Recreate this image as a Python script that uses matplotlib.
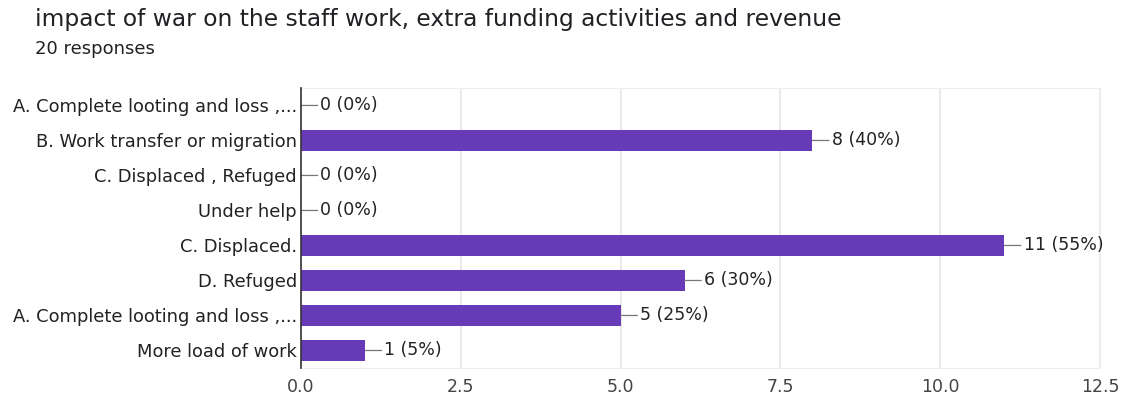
import matplotlib.pyplot as plt

# Survey answers (top to bottom) and response counts
categories = [
    "A. Complete looting and loss ,...",
    "B. Work transfer or migration",
    "C. Displaced , Refuged",
    "Under help",
    "C. Displaced.",
    "D. Refuged",
    "A. Complete looting and loss ,...",
    "More load of work",
]
counts = [0, 8, 0, 0, 11, 6, 5, 1]
percents = [0, 40, 0, 0, 55, 30, 25, 5]
total_responses = 20

xticks = [0.0, 2.5, 5.0, 7.5, 10.0, 12.5]

bar_color = "#673ab7"
plt.rcParams['font.family'] = ['DejaVu Sans']

fig = plt.figure(figsize=(11.25, 3.98), dpi=100)
ax = fig.add_axes([0.2676, 0.0754, 0.7102, 0.7036])

y = list(range(len(categories)))
ax.barh(y, counts, height=0.6, color=bar_color, zorder=3)

for yi, c, p in zip(y, counts, percents):
    ax.annotate(f"{c} ({p}%)", xy=(c, yi), xytext=(14, 0), textcoords='offset points',
                va='center', ha='left', fontsize=12.5, color='#222222',
                arrowprops=dict(arrowstyle='-', color='#777777', lw=0.9,
                                shrinkA=0, shrinkB=0))

ax.set_yticks(y)
ax.set_yticklabels(categories, fontsize=12.9, color='#222222')
ax.set_ylim(len(categories) - 0.5, -0.5)
ax.set_xlim(0, 12.5)
ax.set_xticks(xticks)
ax.set_xticklabels([f"{t:.1f}" for t in xticks], fontsize=12.5, color='#444444')
ax.tick_params(axis='y', length=0, pad=3)
ax.tick_params(axis='x', length=0, pad=7)

ax.grid(axis='x', color='#e6e6e6', lw=1.2, zorder=0)
for side in ['top', 'right', 'bottom']:
    ax.spines[side].set_color('#eeeeee')
ax.spines['left'].set_color('#333333')
ax.spines['left'].set_linewidth(1.2)
ax.spines['left'].set_zorder(4)

fig.text(0.031, 0.95, "impact of war on the staff work, extra funding activities and revenue",
         fontsize=16.8, color='#202124', va='center')
fig.text(0.031, 0.878, f"{total_responses} responses",
         fontsize=13, color='#202124', va='center')

fig.savefig('out.png', dpi=100)
